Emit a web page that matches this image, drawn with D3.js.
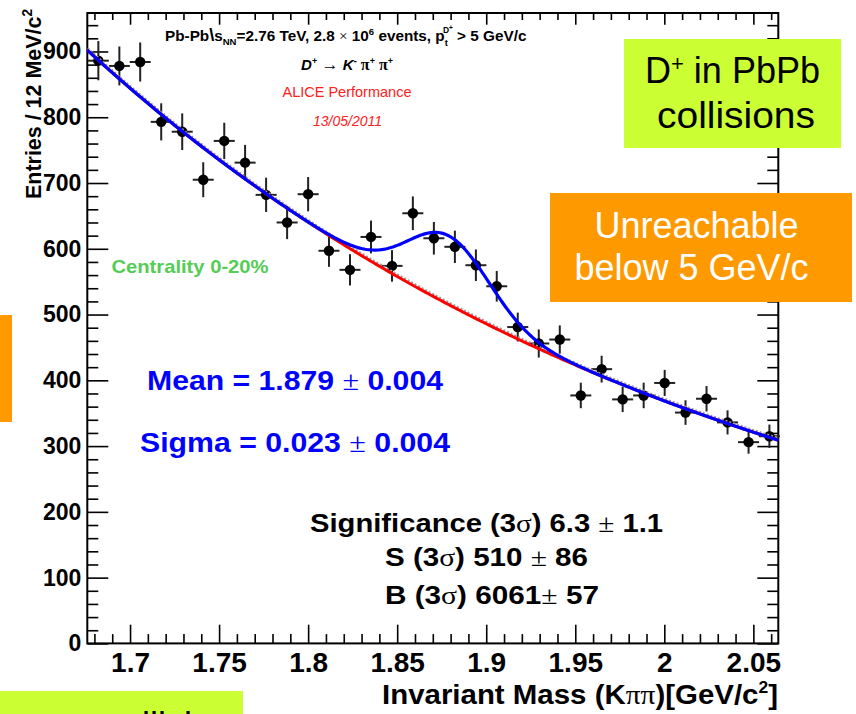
<!DOCTYPE html>
<html>
<head>
<meta charset="utf-8">
<script src="https://cdn.jsdelivr.net/npm/d3@7/dist/d3.min.js"></script>
<style>
  html, body { margin: 0; padding: 0; background: #fff; }
  svg { display: block; }
</style>
</head>
<body>
<svg id="chart" width="856" height="714"></svg>
<script>
// Invariant-mass bin centres (GeV/c^2) of the K pi pi histogram
const massBins = [1.6822, 1.6940, 1.7057, 1.7175, 1.7293, 1.7411, 1.7529, 1.7646, 1.7764, 1.7882,
  1.8000, 1.8117, 1.8235, 1.8353, 1.8471, 1.8588, 1.8706, 1.8824, 1.8942, 1.9059,
  1.9177, 1.9295, 1.9413, 1.9531, 1.9648, 1.9766, 1.9884, 2.0002, 2.0119, 2.0237,
  2.0355, 2.0473, 2.0590];
// Entries per bin and their statistical errors
const entries = [886, 878, 884, 793, 778, 705, 764, 731, 682, 640, 683, 597, 568, 618, 574, 654,
  616, 603, 575, 543, 481, 456, 462, 377, 417, 371, 377, 396, 351, 372, 336, 306, 315];
const entryErrors = [29.8, 29.6, 29.7, 28.2, 27.9, 26.6, 27.6, 27.0, 26.1, 25.3, 26.1, 24.4, 23.8,
  24.9, 24.0, 25.6, 24.8, 24.6, 24.0, 23.3, 21.9, 21.4, 21.5, 19.4, 20.4, 19.3, 19.4, 19.9,
  18.7, 19.3, 18.3, 17.5, 17.7];
const binWidth = 0.0118;

const xTickValues = [1.7, 1.75, 1.8, 1.85, 1.9, 1.95, 2.0, 2.05];
const xTickLabels = ["1.7", "1.75", "1.8", "1.85", "1.9", "1.95", "2", "2.05"];
const yTickValues = [0, 100, 200, 300, 400, 500, 600, 700, 800, 900];
const yTickLabels = ["0", "100", "200", "300", "400", "500", "600", "700", "800", "900"];

// Fit model: exponential background + Gaussian signal
const bkgRef = 1.676, bkgNorm = 902, bkgSlope = -2.761;
const sigMean = 1.879, sigSigma = 0.023, sigYield = 510;

const FONT = '"Liberation Sans", Arial, Helvetica, sans-serif';
const SERIF = '"Liberation Serif", "Times New Roman", serif';

const svg = d3.select("#chart");

const x = d3.scaleLinear().domain([1.676, 2.064]).range([87.3, 778.3]);
const y = d3.scaleLinear().domain([0, 958.5]).range([643.4, 13]);

// ---- frame and axes ----
const xMinor = x.ticks(40).filter(v => !xTickValues.some(t => Math.abs(t - v) < 1e-6));
const yMinor = y.ticks(48).filter(v => !yTickValues.some(t => Math.abs(t - v) < 1e-6));

function tidy(g, withLabels, size) {
  g.select(".domain").remove();
  g.selectAll(".tick line").attr("stroke", "#000").attr("stroke-width", 1.6);
  g.selectAll("text")
    .attr("font-family", FONT)
    .attr("font-weight", "bold")
    .attr("font-size", size || 10)
    .attr("fill", "#000");
  if (!withLabels) g.selectAll("text").remove();
}

const gBottom = svg.append("g").attr("transform", "translate(0,643.4)");
gBottom.append("g").call(d3.axisBottom(x).tickValues(xTickValues).tickSize(-18.7).tickPadding(8.5)
  .tickFormat((d, i) => xTickLabels[i])).call(g => tidy(g, true, 28));
gBottom.append("g").call(d3.axisBottom(x).tickValues(xMinor).tickSize(-9.3).tickFormat(""))
  .call(g => tidy(g, false));

const gTop = svg.append("g").attr("transform", "translate(0,13)");
gTop.append("g").call(d3.axisTop(x).tickValues(xTickValues).tickSize(-11.7).tickFormat(""))
  .call(g => tidy(g, false));
gTop.append("g").call(d3.axisTop(x).tickValues(xMinor).tickSize(-7).tickFormat(""))
  .call(g => tidy(g, false));

const gLeft = svg.append("g").attr("transform", "translate(87.3,0)");
gLeft.append("g").call(d3.axisLeft(y).tickValues(yTickValues).tickSize(-21).tickPadding(6)
  .tickFormat((d, i) => yTickLabels[i])).call(g => tidy(g, true, 23));
gLeft.append("g").call(d3.axisLeft(y).tickValues(yMinor).tickSize(-11).tickFormat(""))
  .call(g => tidy(g, false));

const gRight = svg.append("g").attr("transform", "translate(778.3,0)");
gRight.append("g").call(d3.axisRight(y).tickValues(yTickValues).tickSize(-21).tickFormat(""))
  .call(g => tidy(g, false));
gRight.append("g").call(d3.axisRight(y).tickValues(yMinor).tickSize(-11).tickFormat(""))
  .call(g => tidy(g, false));

svg.append("rect")
  .attr("x", x.range()[0]).attr("y", y.range()[1])
  .attr("width", x.range()[1] - x.range()[0])
  .attr("height", y.range()[0] - y.range()[1])
  .attr("fill", "none").attr("stroke", "#000").attr("stroke-width", 2);

// ---- data points with error bars ----
const pts = massBins.map((m, i) => ({ m, v: entries[i], e: entryErrors[i] }));
const gPts = svg.append("g");
gPts.selectAll("line.v").data(pts).join("line").attr("class", "v")
  .attr("x1", d => x(d.m)).attr("x2", d => x(d.m))
  .attr("y1", d => y(d.v - d.e)).attr("y2", d => y(d.v + d.e))
  .attr("stroke", "#222").attr("stroke-width", 2);
gPts.selectAll("line.h").data(pts).join("line").attr("class", "h")
  .attr("x1", d => x(d.m - binWidth / 2)).attr("x2", d => x(d.m + binWidth / 2))
  .attr("y1", d => y(d.v)).attr("y2", d => y(d.v))
  .attr("stroke", "#222").attr("stroke-width", 2);
gPts.selectAll("circle").data(pts).join("circle")
  .attr("cx", d => x(d.m)).attr("cy", d => y(d.v)).attr("r", 5.2).attr("fill", "#000");

// ---- fit curves ----
const sigHeight = (sigYield / 0.9973) * binWidth / (sigSigma * Math.sqrt(2 * Math.PI));
const bkg = m => bkgNorm * Math.exp(bkgSlope * (m - bkgRef));
const total = m => bkg(m) + sigHeight * Math.exp(-0.5 * Math.pow((m - sigMean) / sigSigma, 2));
const grid = d3.range(x.domain()[0], x.domain()[1] + 1e-9, 0.001);

const lineOf = f => d3.line().x(m => x(m)).y(m => y(f(m))).curve(d3.curveLinear)(grid);

svg.append("path").attr("d", lineOf(bkg)).attr("transform", "translate(0.5,-2)")
  .attr("fill", "none").attr("stroke", "#9a9a9a").attr("stroke-width", 2).attr("stroke-dasharray", "2,2");
svg.append("path").attr("d", lineOf(bkg))
  .attr("fill", "none").attr("stroke", "#ff0000").attr("stroke-width", 3);
svg.append("path").attr("d", lineOf(total))
  .attr("fill", "none").attr("stroke", "#0000ff").attr("stroke-width", 3.2);

// ---- helper for mixed-style text ----
function rich(px, py, parts, attrs) {
  const t = svg.append("text").attr("x", px).attr("y", py).attr("font-family", FONT);
  Object.entries(attrs || {}).forEach(([k, v]) => t.attr(k, v));
  parts.forEach(p => {
    const s = t.append("tspan").text(p.t);
    Object.entries(p).forEach(([k, v]) => { if (k !== "t") s.attr(k, v); });
  });
  return t;
}

// axis titles
rich(0, 0, [
  { t: "Entries / 12 MeV/c" },
  { t: "2", "font-size": 14, dy: -9 }
], { transform: "translate(41,9) rotate(-90)", "text-anchor": "end", "font-size": 22,
     "font-weight": "bold", textLength: 190, lengthAdjust: "spacingAndGlyphs" });

rich(778, 704, [
  { t: "Invariant Mass (K" },
  { t: "ππ", "font-family": SERIF, "font-weight": "normal" },
  { t: ")[GeV/c" },
  { t: "2", "font-size": 16, dy: -11 },
  { t: "]", dy: 11 }
], { "text-anchor": "end", "font-size": 27, "font-weight": "bold", textLength: 396, lengthAdjust: "spacingAndGlyphs" });

// header lines
rich(165, 41, [
  { t: "Pb-Pb" },
  { t: "\\", "font-size": 18 },
  { t: "s" },
  { t: "NN", "font-size": 9.5, dy: 4 },
  { t: "=2.76 TeV, 2.8 ", dy: -4 },
  { t: "×", "font-family": SERIF, "font-weight": "normal" },
  { t: " 10" },
  { t: "6", "font-size": 9.5, dy: -6 },
  { t: " events, p", dy: 6 },
  { t: "t", "font-size": 9.5, dy: 5 },
  { t: "D", "font-size": 8.5, dx: -5, dy: -13 },
  { t: "+", "font-size": 6.5, dy: -3 },
  { t: " > 5 GeV/c", dy: 11 }
], { "font-size": 15.3, "font-weight": "bold", fill: "#000" });

rich(347, 70, [
  { t: "D", "font-style": "italic" },
  { t: "+", "font-size": 9, dy: -6 },
  { t: " → ", dy: 6, "font-family": SERIF, "font-weight": "normal", "font-size": 17 },
  { t: "K", "font-style": "italic" },
  { t: "-", "font-size": 10, dy: -6 },
  { t: " π", dy: 6, "font-family": SERIF, "font-size": 16 },
  { t: "+", "font-size": 9, dy: -6 },
  { t: " π", dy: 6, "font-family": SERIF, "font-size": 16 },
  { t: "+", "font-size": 9, dy: -6 }
], { "text-anchor": "middle", "font-size": 15, "font-weight": "bold", fill: "#000" });

rich(347, 97, [{ t: "ALICE Performance" }],
  { "text-anchor": "middle", "font-size": 14.5, fill: "#ff2020" });
rich(347.5, 126, [{ t: "13/05/2011" }],
  { "text-anchor": "middle", "font-size": 14, "font-style": "italic", fill: "#ff2020" });

rich(111.5, 273, [{ t: "Centrality 0-20%" }],
  { "font-size": 18.5, "font-weight": "bold", fill: "#55cc55", textLength: 157, lengthAdjust: "spacingAndGlyphs" });

// fit results
rich(147, 390, [
  { t: "Mean = 1.879 " }, { t: "±", "font-family": SERIF, "font-weight": "normal" }, { t: " 0.004" }
], { "font-size": 28, "font-weight": "bold", fill: "#0000ff", textLength: 296, lengthAdjust: "spacingAndGlyphs" });
rich(140, 452, [
  { t: "Sigma = 0.023 " }, { t: "±", "font-family": SERIF, "font-weight": "normal" }, { t: " 0.004" }
], { "font-size": 28, "font-weight": "bold", fill: "#0000ff", textLength: 310, lengthAdjust: "spacingAndGlyphs" });

rich(310, 532, [
  { t: "Significance (3" }, { t: "σ", "font-family": SERIF, "font-weight": "normal" },
  { t: ") 6.3 " }, { t: "±", "font-family": SERIF, "font-weight": "normal" }, { t: " 1.1" }
], { "font-size": 26, "font-weight": "bold", fill: "#000", textLength: 353, lengthAdjust: "spacingAndGlyphs" });
rich(385, 566, [
  { t: "S (3" }, { t: "σ", "font-family": SERIF, "font-weight": "normal" },
  { t: ") 510 " }, { t: "±", "font-family": SERIF, "font-weight": "normal" }, { t: " 86" }
], { "font-size": 26, "font-weight": "bold", fill: "#000", textLength: 203, lengthAdjust: "spacingAndGlyphs" });
rich(385, 604, [
  { t: "B (3" }, { t: "σ", "font-family": SERIF, "font-weight": "normal" },
  { t: ") 6061" }, { t: "±", "font-family": SERIF, "font-weight": "normal" }, { t: " 57" }
], { "font-size": 26, "font-weight": "bold", fill: "#000", textLength: 214, lengthAdjust: "spacingAndGlyphs" });

// ---- slide call-out boxes ----
svg.append("rect").attr("x", 624).attr("y", 39).attr("width", 217).attr("height", 109).attr("fill", "#ccff33");
rich(645, 83, [
  { t: "D" }, { t: "+", "font-size": 22, dy: -12 }, { t: " in PbPb", dy: 12 }
], { "font-size": 36, fill: "#000" });
rich(657, 128, [{ t: "collisions" }], { "font-size": 36, fill: "#000", textLength: 158, lengthAdjust: "spacingAndGlyphs" });

svg.append("rect").attr("x", 550).attr("y", 193).attr("width", 302).attr("height", 109).attr("fill", "#ff9900");
rich(696.5, 238, [{ t: "Unreachable" }], { "font-size": 36, fill: "#fff", "text-anchor": "middle" });
rich(691.5, 280, [{ t: "below 5 GeV/c" }], { "font-size": 36, fill: "#fff", "text-anchor": "middle" });

svg.append("rect").attr("x", 0).attr("y", 315).attr("width", 12).attr("height", 107).attr("fill", "#ff9900");

svg.append("rect").attr("x", 0).attr("y", 691).attr("width", 243).attr("height", 23).attr("fill", "#ccff33");
rich(54, 738, [{ t: "pp collisions" }], { "font-size": 36, fill: "#000" });
</script>
</body>
</html>
